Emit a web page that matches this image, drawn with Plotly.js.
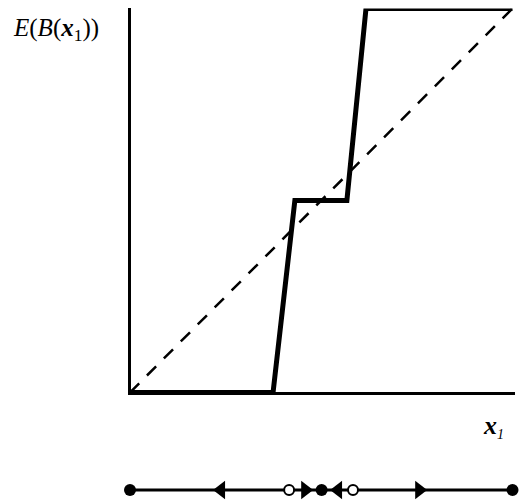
<!DOCTYPE html>
<html>
<head>
<meta charset="utf-8">
<script src="https://cdn.plot.ly/plotly-3.0.1.min.js"></script>
<style>
  html, body { margin: 0; padding: 0; background: #fff; }
  #chart { width: 520px; height: 502px; }
</style>
</head>
<body>
<div id="chart"></div>
<script>
// Best-response step function E(B(x1)) and the 45-degree line
const stepX = [0, 0.374, 0.431, 0.567, 0.617, 1];
const stepY = [0, 0, 0.5, 0.5, 1, 1];
const diagX = [0, 1];
const diagY = [0, 1];

// Phase line: fixed points and flow directions
const phaseX = [0, 1];
const stableX = [0, 0.501, 1];
const unstableX = [0.416, 0.583];
const leftArrowX = [0.238, 0.544];
const rightArrowX = [0.458, 0.756];

const zeros = a => a.map(() => 0);

const traces = [
  {
    x: diagX, y: diagY, type: 'scatter', mode: 'lines',
    line: { color: '#000', width: 2.5, dash: '13px,11px' },
    hoverinfo: 'skip', cliponaxis: false
  },
  {
    x: stepX, y: stepY, type: 'scatter', mode: 'lines',
    line: { color: '#000', width: 5 },
    hoverinfo: 'skip', cliponaxis: false
  },
  {
    x: phaseX, y: zeros(phaseX), xaxis: 'x', yaxis: 'y2',
    type: 'scatter', mode: 'lines',
    line: { color: '#000', width: 3 }, hoverinfo: 'skip', cliponaxis: false
  },
  {
    x: leftArrowX, y: zeros(leftArrowX), xaxis: 'x', yaxis: 'y2',
    type: 'scatter', mode: 'markers',
    marker: { symbol: 'triangle-left', size: 16, color: '#000', line: { width: 0 } },
    hoverinfo: 'skip', cliponaxis: false
  },
  {
    x: rightArrowX, y: zeros(rightArrowX), xaxis: 'x', yaxis: 'y2',
    type: 'scatter', mode: 'markers',
    marker: { symbol: 'triangle-right', size: 16, color: '#000', line: { width: 0 } },
    hoverinfo: 'skip', cliponaxis: false
  },
  {
    x: unstableX, y: zeros(unstableX), xaxis: 'x', yaxis: 'y2',
    type: 'scatter', mode: 'markers',
    marker: { symbol: 'circle', size: 10, color: '#fff', line: { color: '#000', width: 2 } },
    hoverinfo: 'skip', cliponaxis: false
  },
  {
    x: stableX, y: zeros(stableX), xaxis: 'x', yaxis: 'y2',
    type: 'scatter', mode: 'markers',
    marker: { symbol: 'circle', size: 12, color: '#000', line: { width: 0 } },
    hoverinfo: 'skip', cliponaxis: false
  }
];

const W = 520, H = 502;
const serif = 'Liberation Serif, Times New Roman, serif';
const px = v => v / W;
const py = v => (H - v) / H;

const layout = {
  width: W, height: H,
  margin: { l: 0, r: 0, t: 0, b: 0, pad: 0 },
  paper_bgcolor: '#fff', plot_bgcolor: '#fff',
  showlegend: false,
  xaxis: {
    domain: [px(130), px(512.5)], range: [0, 1],
    showgrid: false, zeroline: false, showticklabels: false, ticks: '',
    showline: false, anchor: 'y', fixedrange: true
  },
  yaxis: {
    domain: [py(392.5), py(8.5)], range: [0, 1],
    showgrid: false, zeroline: false, showticklabels: false, ticks: '',
    showline: false, anchor: 'x', fixedrange: true
  },
  yaxis2: {
    domain: [0, 24 / H], range: [-1, 1],
    visible: false, anchor: 'x', fixedrange: true
  },
  // axis lines
  shapes: [
    {
      type: 'line', xref: 'paper', yref: 'paper', layer: 'below',
      x0: px(129.5), x1: px(129.5), y0: py(8), y1: py(394.5),
      line: { color: '#000', width: 3 }
    },
    {
      type: 'line', xref: 'paper', yref: 'paper', layer: 'below',
      x0: px(128), x1: px(515), y0: py(393.5), y1: py(393.5),
      line: { color: '#000', width: 3 }
    }
  ],
  annotations: [
    {
      xref: 'paper', yref: 'paper',
      x: px(11), y: py(30), xanchor: 'left', yanchor: 'middle',
      text: '<i>E</i>(<i>B</i>(<b><i>x</i></b><sub>1</sub>))',
      showarrow: false,
      font: { family: serif, size: 25, color: '#000' }
    },
    {
      xref: 'paper', yref: 'paper',
      x: px(481), y: py(426), xanchor: 'left', yanchor: 'middle',
      text: '<b><i>x</i></b><sub><i><span style="font-size:14px">1</span></i></sub>',
      showarrow: false,
      font: { family: serif, size: 26, color: '#000' }
    }
  ]
};

Plotly.newPlot('chart', traces, layout, { staticPlot: true, displayModeBar: false }).then(gd => {
  // square ends on the step function so it meets the axes flush
  const lines = gd.querySelectorAll('.scatterlayer .trace .js-line');
  if (lines[1]) lines[1].style.strokeLinecap = 'square';
});
</script>
</body>
</html>
